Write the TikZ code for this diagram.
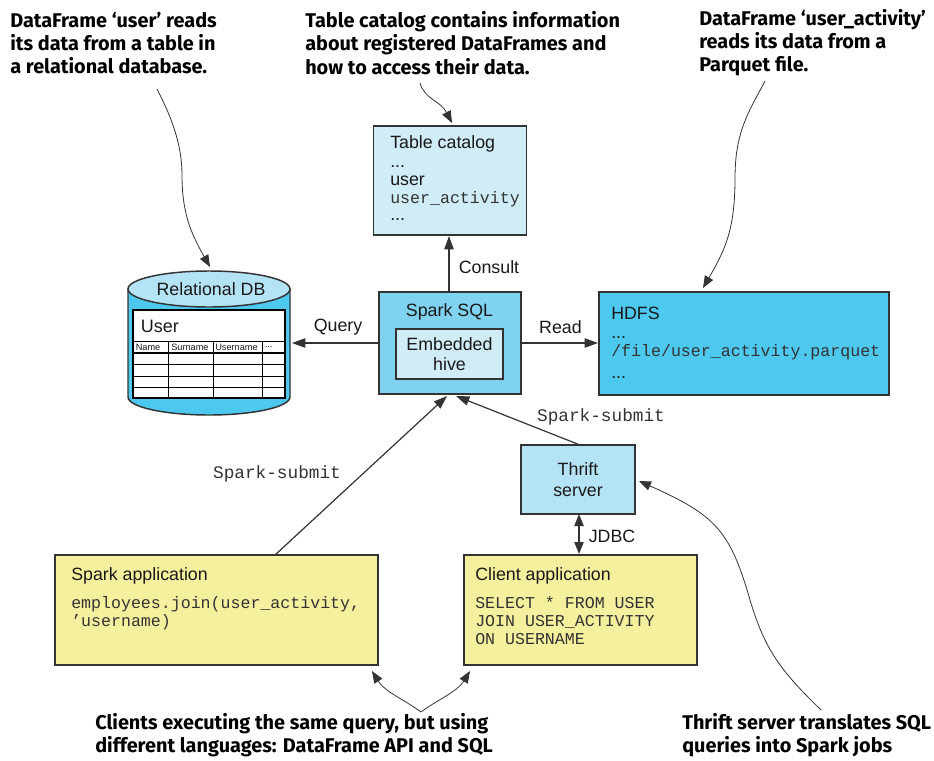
\documentclass[tikz,border=0pt]{standalone}
\usepackage{fontspec}
\setmainfont{Liberation Sans}
\setmonofont{Liberation Mono}
\newfontfamily\notefont{Fira Sans}[UprightFont=* Bold]
\usetikzlibrary{arrows.meta}
\definecolor{paleblue}{HTML}{CFECF7}
\definecolor{midblue}{HTML}{7FD2F0}
\definecolor{deepblue}{HTML}{4DC8EF}
\definecolor{capblue}{HTML}{B5E3F6}
\definecolor{paleyellow}{HTML}{F5F09E}
\definecolor{edge}{HTML}{333333}
\tikzset{
  x=0.75pt,y=-0.75pt,
  boxnode/.style={draw=edge,line width=1.1pt,anchor=north west,inner sep=0pt,outer sep=0pt},
  lbl/.style={inner sep=0pt,font=\fontsize{13.35}{14}\selectfont,text=black!90},
  codelbl/.style={inner sep=0pt,font=\ttfamily\fontsize{12.45}{13.5}\selectfont,text=black!80},
  sublbl/.style={inner sep=0pt,font=\ttfamily\fontsize{13.3}{14}\selectfont,text=black!80},
  hdr/.style={inner sep=0pt,anchor=west,font=\fontsize{6.9}{8}\selectfont,text=black!90},
  note/.style={anchor=north west,inner sep=0pt,font=\notefont\fontsize{14.9}{17.3}\selectfont,align=left,text=black},
  conn/.style={draw=edge,line width=0.9pt,-{Triangle[length=10pt,width=7pt]}},
  curve/.style={draw=edge,line width=0.6pt,-{Triangle[length=9pt,width=7pt]}},
  tabline/.style={draw=black,line width=0.7pt},
}
\begin{document}
\begin{tikzpicture}
\useasboundingbox (0,0) rectangle (934,760);
% boxes
\node[boxnode,fill=paleblue,minimum width=114.75pt,minimum height=81.75pt] (catalog) at (373.5,126) {};
\node[boxnode,fill=midblue,minimum width=106.5pt,minimum height=76.5pt] (spark) at (379,292) {};
\node[boxnode,fill=paleblue,minimum width=80.25pt,minimum height=37.5pt] (hive) at (396,329) {};
\node[boxnode,fill=deepblue,minimum width=217.5pt,minimum height=77.25pt] (hdfs) at (599,292) {};
\node[boxnode,fill=capblue,minimum width=85.5pt,minimum height=51.75pt] (thrift) at (521,445) {};
\node[boxnode,fill=paleyellow,minimum width=242.25pt,minimum height=82.5pt] (sparkapp) at (55,555) {};
\node[boxnode,fill=paleyellow,minimum width=174.75pt,minimum height=82.5pt] (clientapp) at (464,555) {};
% cylinder
\path[draw=edge,line width=1.1pt,fill=deepblue] (128,289) -- (128,397) arc[start angle=180,end angle=0,x radius=81,y radius=18] -- (290,289) -- cycle;
\path[draw=edge,line width=1.1pt,fill=capblue] (209,289) ellipse[x radius=81,y radius=18];
\node[lbl] (dbname) at (211,289) {Relational DB};
% table
\path[draw=black,line width=1pt,fill=white] (133,310) rectangle (285,398);
\draw[tabline] (133,341) -- (285,341);
\draw[draw=black,line width=1.2pt] (133,353) -- (285,353);
\foreach \yy in {364.5,376,387.5} \draw[tabline] (133,\yy) -- (285,\yy);
\foreach \xx in {168,213,262} \draw[tabline] (\xx,341) -- (\xx,398);
\node[lbl,anchor=west,font=\fontsize{13.5}{15}\selectfont] (usertitle) at (140.5,326) {User};
\node[hdr] (col1) at (135.5,347.5) {Name};
\node[hdr] (col2) at (171,347.5) {Surname};
\node[hdr] (col3) at (215,347.5) {Username};
\node[hdr] (col4) at (264.5,347.5) {...};
% box texts
\node[lbl,anchor=west] (t1) at (390,144) {Table catalog};
\node[lbl,anchor=west] (t2) at (390,167) {...};
\node[lbl,anchor=west] (t3) at (390,181) {user};
\node[codelbl,anchor=west] (t4) at (390,199) {user\_activity};
\node[lbl,anchor=west] (t5) at (390,220) {...};
\node[lbl] (sparkname) at (449.5,312) {Spark SQL};
\node[lbl,align=center] (hivename) at (449.5,354) {Embedded\\[1.5pt]hive};
\node[lbl,anchor=west] (h1) at (611,313) {HDFS};
\node[lbl,anchor=west] (h2) at (611,338) {...};
\node[codelbl,anchor=west] (h3) at (611,352) {/file/user\_activity.parquet};
\node[lbl,anchor=west] (h4) at (611,378) {...};
\node[lbl,align=center] (thriftname) at (578,479.5) {Thrift\\[1.5pt]server};
\node[lbl,anchor=west] (a1) at (71,576) {Spark application};
\node[codelbl,anchor=north west,align=left] (a2) at (71,596) {employees.join(user\_activity,\\’username)};
\node[lbl,anchor=west] (c1) at (475,576) {Client application};
\node[codelbl,anchor=north west,align=left] (c2) at (475,596) {SELECT * FROM USER\\JOIN USER\_ACTIVITY\\ON USERNAME};
% coordinates for connector ends
\coordinate (dbedge) at (292,343);
\coordinate (spleft) at (379,343);
\coordinate (spright) at (521,343);
\coordinate (hdleft) at (598,343);
\coordinate (sptop) at (449,292);
\coordinate (catbot) at (449,236);
\coordinate (thtop) at (580,445);
\coordinate (spbotr) at (456,396);
\coordinate (appout) at (275,555);
\coordinate (spbotl) at (447,396);
\coordinate (thbot) at (579,514);
\coordinate (cltop) at (579,554);
% connectors
\draw[conn] (spleft) -- (dbedge);
\draw[conn] (spright) -- (hdleft);
\draw[conn] (sptop) -- (catbot);
\draw[conn] (thtop) -- (spbotr);
\draw[conn] (appout) -- (spbotl);
\draw[conn,{Triangle[length=9pt,width=7pt]}-{Triangle[length=9pt,width=7pt]}] (thbot) -- (cltop);
% connector labels
\node[lbl] (lq) at (338,327) {Query};
\node[lbl] (lr) at (560.5,327) {Read};
\node[lbl] (lc) at (489,267) {Consult};
\node[lbl] (lj) at (612,536) {JDBC};
\node[sublbl] (ls1) at (601,417) {Spark-submit};
\node[sublbl] (ls2) at (277,474) {Spark-submit};
% notes
\node[note] (n1) at (10,12) {DataFrame ‘user’ reads\\its data from a table in\\a relational database.};
\node[note] (n2) at (305,11.5) {Table catalog contains information\\about registered DataFrames and\\how to access their data.};
\node[note] (n3) at (699,9) {DataFrame ‘user\_activity’\\reads its data from a\\Parquet file.};
\node[note] (n4) at (95,713) {Clients executing the same query, but using\\different languages: DataFrame API and SQL};
\node[note] (n5) at (682,713) {Thrift server translates SQL\\queries into Spark jobs};
% note curves
\coordinate (c1s) at (157,89);
\coordinate (c1m) at (182,175);
\coordinate (c1e) at (210,267);
\coordinate (c2s) at (420,83);
\coordinate (c2e) at (452,123);
\coordinate (c3s) at (765,81);
\coordinate (c3m) at (735,178);
\coordinate (c3e) at (703,288);
\coordinate (c4s) at (821,710);
\coordinate (c4m) at (750,600);
\coordinate (c4e) at (639,481);
\coordinate (c5s) at (421,712);
\coordinate (c5a) at (372,671);
\coordinate (c5b) at (470,671);
\draw[curve] (c1s) .. controls (172,118) and (182,145) .. (c1m) .. controls (182,215) and (192,235) .. (c1e);
\draw[curve] (c2s) .. controls (425,100) and (440,100) .. (c2e);
\draw[curve] (c3s) .. controls (750,110) and (735,130) .. (c3m) .. controls (735,230) and (725,250) .. (c3e);
\draw[curve] (c4s) .. controls (780,670) and (765,650) .. (c4m) .. controls (730,530) and (715,515) .. (c4e);
\draw[curve] (c5s) .. controls (405,700) and (385,692) .. (c5a);
\draw[curve] (c5s) .. controls (437,700) and (457,692) .. (c5b);
\end{tikzpicture}
\end{document}
